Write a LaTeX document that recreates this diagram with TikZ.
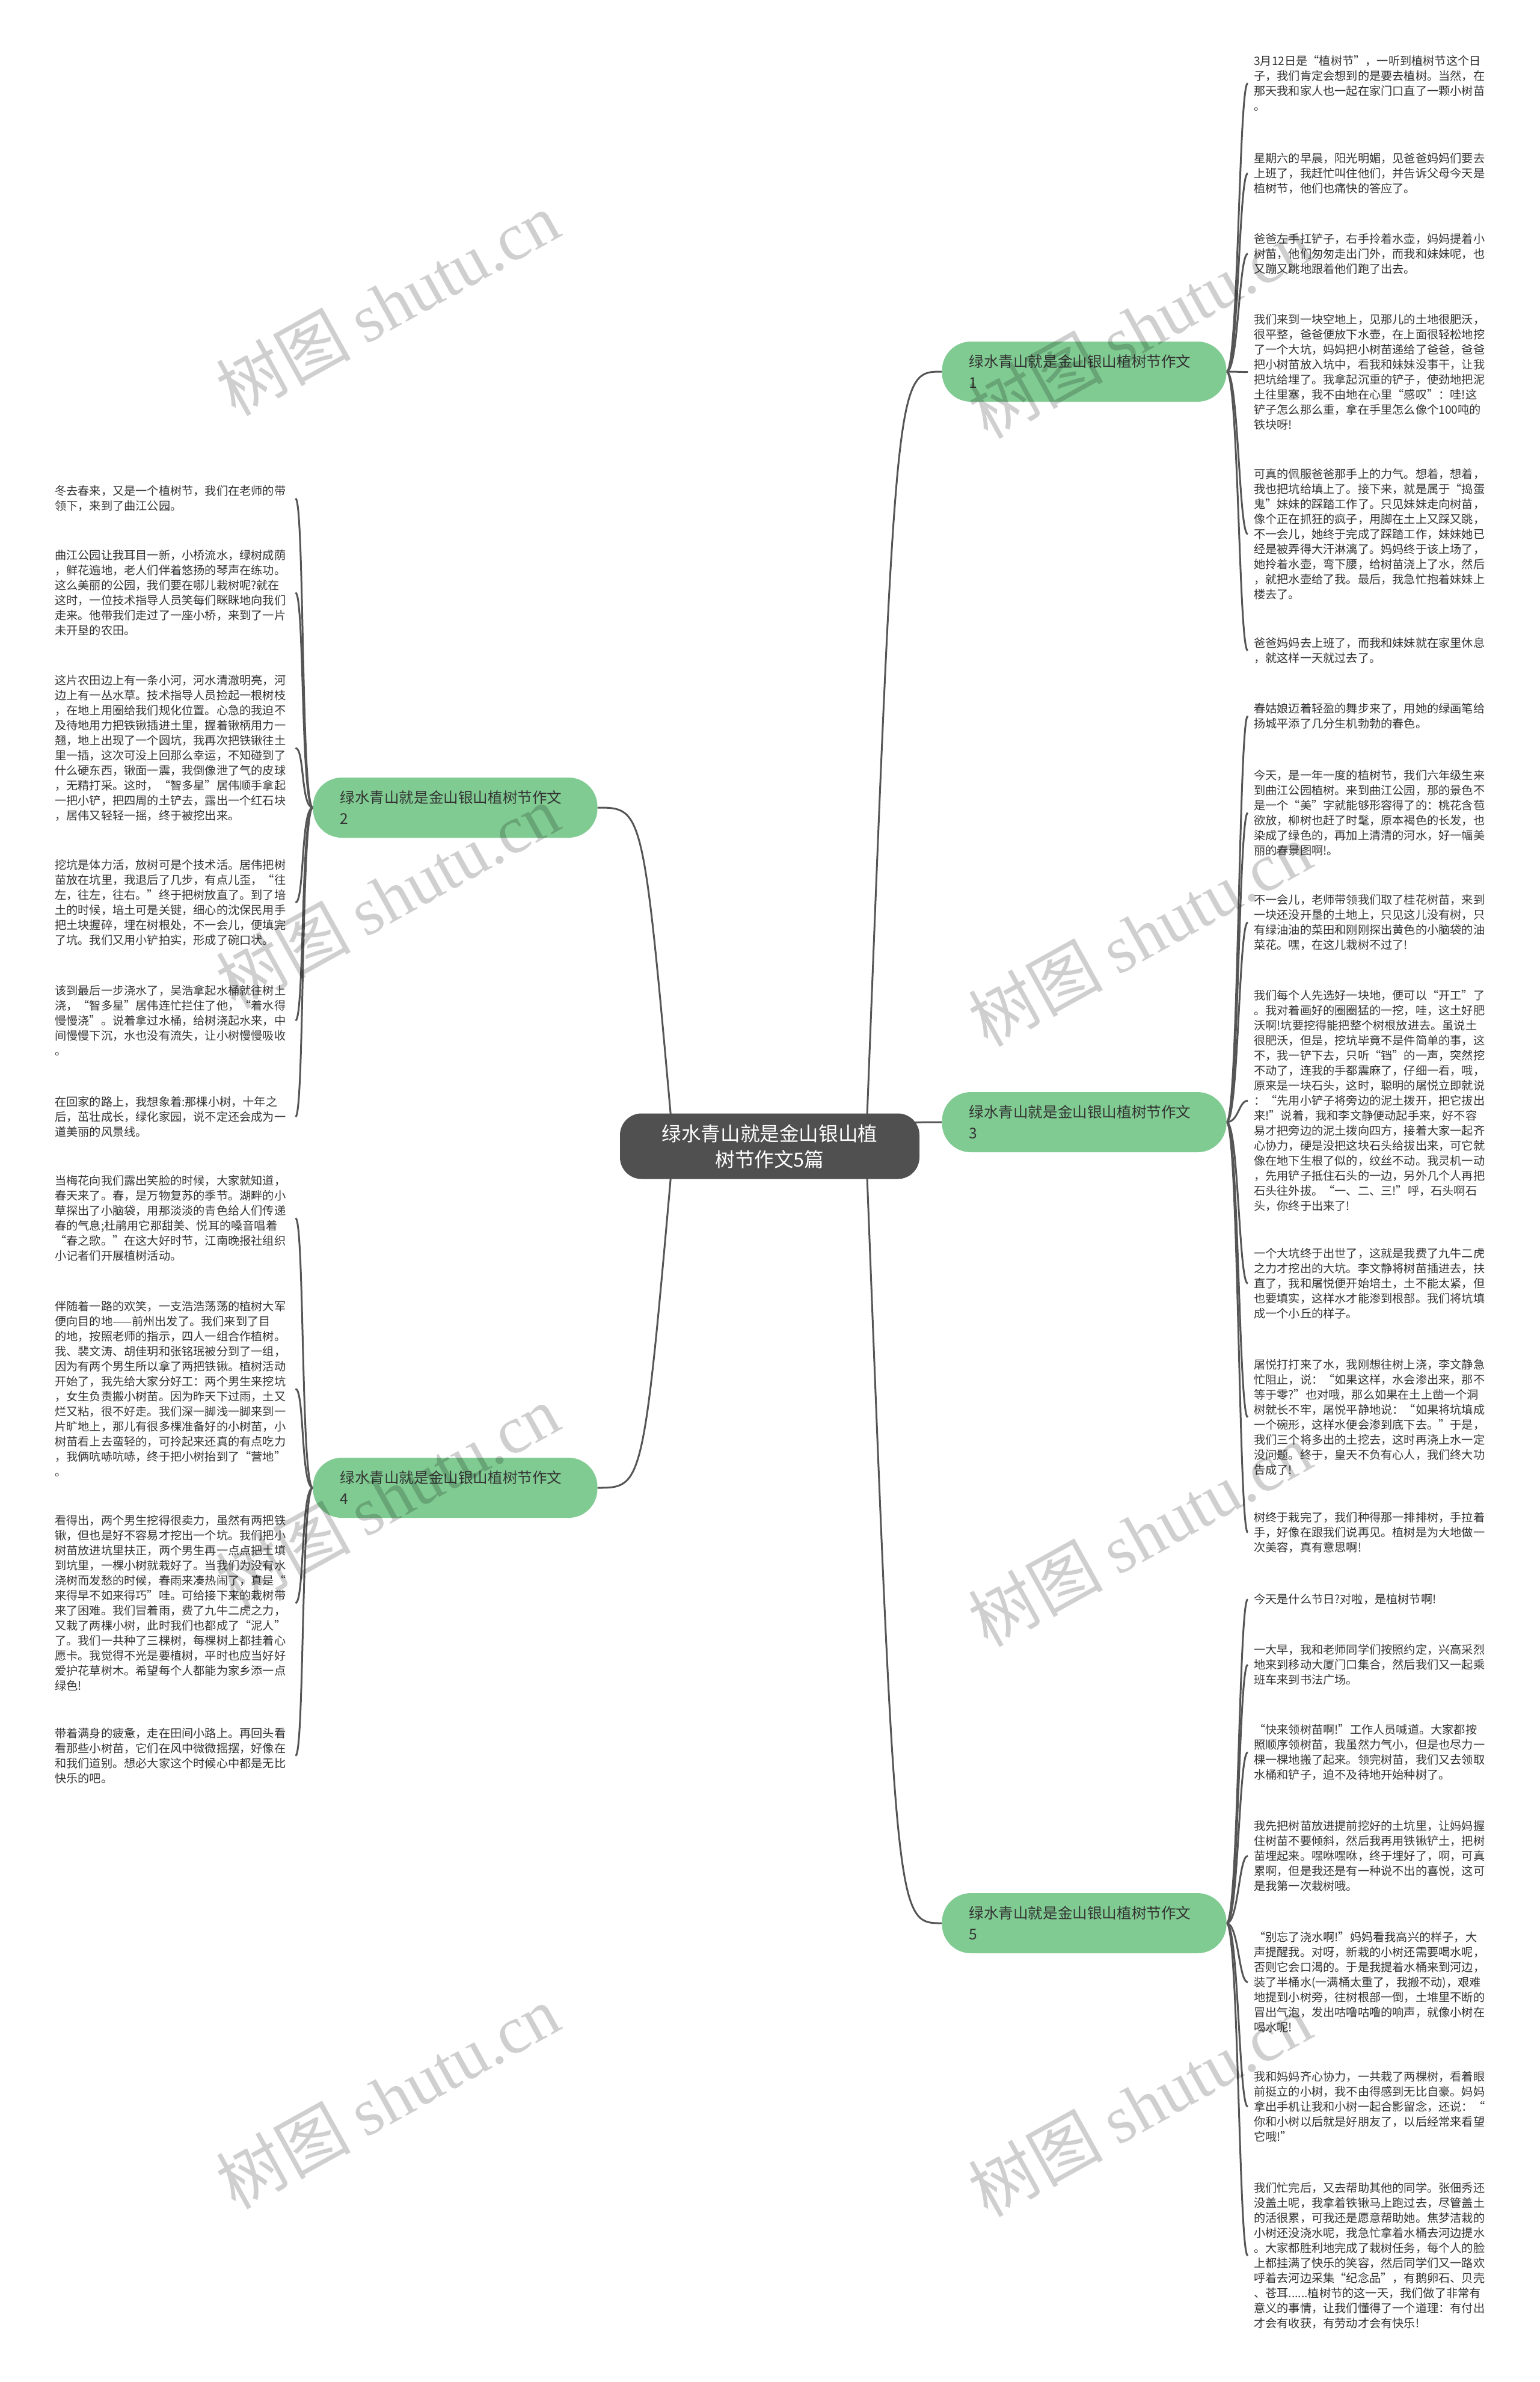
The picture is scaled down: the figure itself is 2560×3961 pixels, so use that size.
\documentclass[tikz,border=0pt]{standalone}
\usepackage{fontspec}
\setmainfont{Noto Sans CJK SC}
\newfontfamily\wmserif{Liberation Serif}
\pgfdeclarelayer{bg}
\pgfsetlayers{bg,main}
\definecolor{nodegreen}{RGB}{128,203,146}
\definecolor{centergray}{RGB}{80,80,80}
\definecolor{linegray}{RGB}{85,85,85}
\definecolor{txtgray}{RGB}{51,51,51}
\tikzset{
  leaf/.style={anchor=north west, inner sep=0pt, text width=390pt, align=left, text=txtgray, font=\fontsize{19.2}{25}\selectfont},
  branch/.style={fill=nodegreen, rounded corners=48pt, minimum height=100pt, inner xsep=45pt, inner ysep=0pt, text width=383pt, align=left, text=txtgray, font=\fontsize{24.6}{35}\selectfont},
  centernode/.style={fill=centergray, rounded corners=36pt, minimum width=498pt, minimum height=109pt, align=center, text=white, font=\fontsize{32.6}{43}\selectfont},
  link/.style={draw=linegray, line width=3pt},
  wm/.style={rotate=29, text=black, text opacity=0.19, font=\fontsize{112}{112}\selectfont}
}
\begin{document}
\begin{tikzpicture}[x=1pt,y=-1pt]
\useasboundingbox (0,0) rectangle (2560,3961);

% central and branch nodes
\node[centernode] (c) at (1280,1906) {绿水青山就是金山银山植\\树节作文5篇};
\node[branch] (b1) at (1803,618) {绿水青山就是金山银山植树节作文\\1};
\node[branch] (b2) at (757,1343) {绿水青山就是金山银山植树节作文\\2};
\node[branch] (b3) at (1803,1866) {绿水青山就是金山银山植树节作文\\3};
\node[branch] (b4) at (757,2474) {绿水青山就是金山银山植树节作文\\4};
\node[branch] (b5) at (1803,3198) {绿水青山就是金山银山植树节作文\\5};

% right leaves
\node[leaf] (r1) at (2085,92) {3月12日是“植树节”，一听到植树节这个日\\子，我们肯定会想到的是要去植树。当然，在\\那天我和家人也一起在家门口直了一颗小树苗\\。};
\node[leaf] (r2) at (2085,254) {星期六的早晨，阳光明媚，见爸爸妈妈们要去\\上班了，我赶忙叫住他们，并告诉父母今天是\\植树节，他们也痛快的答应了。};
\node[leaf] (r3) at (2085,388) {爸爸左手扛铲子，右手拎着水壶，妈妈提着小\\树苗，他们匆匆走出门外，而我和妹妹呢，也\\又蹦又跳地跟着他们跑了出去。};
\node[leaf] (r4) at (2085,522) {我们来到一块空地上，见那儿的土地很肥沃，\\很平整，爸爸便放下水壶，在上面很轻松地挖\\了一个大坑，妈妈把小树苗递给了爸爸，爸爸\\把小树苗放入坑中，看我和妹妹没事干，让我\\把坑给埋了。我拿起沉重的铲子，使劲地把泥\\土往里塞，我不由地在心里“感叹”：哇!这\\铲子怎么那么重，拿在手里怎么像个100吨的\\铁块呀!};
\node[leaf] (r5) at (2085,779) {可真的佩服爸爸那手上的力气。想着，想着，\\我也把坑给填上了。接下来，就是属于“捣蛋\\鬼”妹妹的踩踏工作了。只见妹妹走向树苗，\\像个正在抓狂的疯子，用脚在土上又踩又跳，\\不一会儿，她终于完成了踩踏工作，妹妹她已\\经是被弄得大汗淋漓了。妈妈终于该上场了，\\她拎着水壶，弯下腰，给树苗浇上了水，然后\\，就把水壶给了我。最后，我急忙抱着妹妹上\\楼去了。};
\node[leaf] (r6) at (2085,1060) {爸爸妈妈去上班了，而我和妹妹就在家里休息\\，就这样一天就过去了。};
\node[leaf] (r7) at (2085,1169) {春姑娘迈着轻盈的舞步来了，用她的绿画笔给\\扬城平添了几分生机勃勃的春色。};
\node[leaf] (r8) at (2085,1280) {今天，是一年一度的植树节，我们六年级生来\\到曲江公园植树。来到曲江公园，那的景色不\\是一个“美”字就能够形容得了的：桃花含苞\\欲放，柳树也赶了时髦，原本褐色的长发，也\\染成了绿色的，再加上清清的河水，好一幅美\\丽的春景图啊!。};
\node[leaf] (r9) at (2085,1487) {不一会儿，老师带领我们取了桂花树苗，来到\\一块还没开垦的土地上，只见这儿没有树，只\\有绿油油的菜田和刚刚探出黄色的小脑袋的油\\菜花。嘿，在这儿栽树不过了!};
\node[leaf] (r10) at (2085,1646) {我们每个人先选好一块地，便可以“开工”了\\。我对着画好的圈圈猛的一挖，哇，这土好肥\\沃啊!坑要挖得能把整个树根放进去。虽说土\\很肥沃，但是，挖坑毕竟不是件简单的事，这\\不，我一铲下去，只听“铛”的一声，突然挖\\不动了，连我的手都震麻了，仔细一看，哦，\\原来是一块石头，这时，聪明的屠悦立即就说\\：“先用小铲子将旁边的泥土拨开，把它拔出\\来!”说着，我和李文静便动起手来，好不容\\易才把旁边的泥土拨向四方，接着大家一起齐\\心协力，硬是没把这块石头给拔出来，可它就\\像在地下生根了似的，纹丝不动。我灵机一动\\，先用铲子抵住石头的一边，另外几个人再把\\石头往外拔。“一、二、三!”呼，石头啊石\\头，你终于出来了!};
\node[leaf] (r11) at (2085,2075) {一个大坑终于出世了，这就是我费了九牛二虎\\之力才挖出的大坑。李文静将树苗插进去，扶\\直了，我和屠悦便开始培土，土不能太紧，但\\也要填实，这样水才能渗到根部。我们将坑填\\成一个小丘的样子。};
\node[leaf] (r12) at (2085,2260) {屠悦打打来了水，我刚想往树上浇，李文静急\\忙阻止，说：“如果这样，水会渗出来，那不\\等于零?”也对哦，那么如果在土上凿一个洞\\树就长不牢，屠悦平静地说：“如果将坑填成\\一个碗形，这样水便会渗到底下去。”于是，\\我们三个将多出的土挖去，这时再浇上水一定\\没问题。终于，皇天不负有心人，我们终大功\\告成了!};
\node[leaf] (r13) at (2085,2514) {树终于栽完了，我们种得那一排排树，手拉着\\手，好像在跟我们说再见。植树是为大地做一\\次美容，真有意思啊!};
\node[leaf] (r14) at (2085,2650) {今天是什么节日?对啦，是植树节啊!};
\node[leaf] (r15) at (2085,2734) {一大早，我和老师同学们按照约定，兴高采烈\\地来到移动大厦门口集合，然后我们又一起乘\\班车来到书法广场。};
\node[leaf] (r16) at (2085,2867) {“快来领树苗啊!”工作人员喊道。大家都按\\照顺序领树苗，我虽然力气小，但是也尽力一\\棵一棵地搬了起来。领完树苗，我们又去领取\\水桶和铲子，迫不及待地开始种树了。};
\node[leaf] (r17) at (2085,3027) {我先把树苗放进提前挖好的土坑里，让妈妈握\\住树苗不要倾斜，然后我再用铁锹铲土，把树\\苗埋起来。嘿咻嘿咻，终于埋好了，啊，可真\\累啊，但是我还是有一种说不出的喜悦，这可\\是我第一次栽树哦。};
\node[leaf] (r18) at (2085,3212) {“别忘了浇水啊!”妈妈看我高兴的样子，大\\声提醒我。对呀，新栽的小树还需要喝水呢，\\否则它会口渴的。于是我提着水桶来到河边，\\装了半桶水(一满桶太重了，我搬不动)，艰难\\地提到小树旁，往树根部一倒，土堆里不断的\\冒出气泡，发出咕噜咕噜的响声，就像小树在\\喝水呢!};
\node[leaf] (r19) at (2085,3444) {我和妈妈齐心协力，一共栽了两棵树，看着眼\\前挺立的小树，我不由得感到无比自豪。妈妈\\拿出手机让我和小树一起合影留念，还说：“\\你和小树以后就是好朋友了，以后经常来看望\\它哦!”};
\node[leaf] (r20) at (2085,3629) {我们忙完后，又去帮助其他的同学。张佃秀还\\没盖土呢，我拿着铁锹马上跑过去，尽管盖土\\的活很累，可我还是愿意帮助她。焦梦洁栽的\\小树还没浇水呢，我急忙拿着水桶去河边提水\\。大家都胜利地完成了栽树任务，每个人的脸\\上都挂满了快乐的笑容，然后同学们又一路欢\\呼着去河边采集“纪念品”，有鹅卵石、贝壳\\、苍耳......植树节的这一天，我们做了非常有\\意义的事情，让我们懂得了一个道理：有付出\\才会有收获，有劳动才会有快乐!};

% left leaves
\node[leaf] (l1) at (91,807) {冬去春来，又是一个植树节，我们在老师的带\\领下，来到了曲江公园。};
\node[leaf] (l2) at (91,914) {曲江公园让我耳目一新，小桥流水，绿树成荫\\，鲜花遍地，老人们伴着悠扬的琴声在练功。\\这么美丽的公园，我们要在哪儿栽树呢?就在\\这时，一位技术指导人员笑每们眯眯地向我们\\走来。他带我们走过了一座小桥，来到了一片\\未开垦的农田。};
\node[leaf] (l3) at (91,1122) {这片农田边上有一条小河，河水清澈明亮，河\\边上有一丛水草。技术指导人员捡起一根树枝\\，在地上用圈给我们规化位置。心急的我迫不\\及待地用力把铁锹插进土里，握着锹柄用力一\\翘，地上出现了一个圆坑，我再次把铁锹往土\\里一插，这次可没上回那么幸运，不知碰到了\\什么硬东西，锹面一震，我倒像泄了气的皮球\\，无精打采。这时，“智多星”居伟顺手拿起\\一把小铲，把四周的土铲去，露出一个红石块\\，居伟又轻轻一摇，终于被挖出来。};
\node[leaf] (l4) at (91,1429) {挖坑是体力活，放树可是个技术活。居伟把树\\苗放在坑里，我退后了几步，有点儿歪，“往\\左，往左，往右。”终于把树放直了。到了培\\土的时候，培土可是关键，细心的沈保民用手\\把土块握碎，埋在树根处，不一会儿，便填完\\了坑。我们又用小铲拍实，形成了碗口状。};
\node[leaf] (l5) at (91,1638) {该到最后一步浇水了，吴浩拿起水桶就往树上\\浇，“智多星”居伟连忙拦住了他，“着水得\\慢慢浇”。说着拿过水桶，给树浇起水来，中\\间慢慢下沉，水也没有流失，让小树慢慢吸收\\。};
\node[leaf] (l6) at (91,1823) {在回家的路上，我想象着:那棵小树，十年之\\后，茁壮成长，绿化家园，说不定还会成为一\\道美丽的风景线。};
\node[leaf] (l7) at (91,1954) {当梅花向我们露出笑脸的时候，大家就知道，\\春天来了。春，是万物复苏的季节。湖畔的小\\草探出了小脑袋，用那淡淡的青色给人们传递\\春的气息;杜鹃用它那甜美、悦耳的嗓音唱着\\“春之歌。”在这大好时节，江南晚报社组织\\小记者们开展植树活动。};
\node[leaf] (l8) at (91,2163) {伴随着一路的欢笑，一支浩浩荡荡的植树大军\\便向目的地——前州出发了。我们来到了目\\的地，按照老师的指示，四人一组合作植树。\\我、裴文涛、胡佳玥和张铭珉被分到了一组，\\因为有两个男生所以拿了两把铁锹。植树活动\\开始了，我先给大家分好工：两个男生来挖坑\\，女生负责搬小树苗。因为昨天下过雨，土又\\烂又粘，很不好走。我们深一脚浅一脚来到一\\片旷地上，那儿有很多棵准备好的小树苗，小\\树苗看上去蛮轻的，可拎起来还真的有点吃力\\，我俩吭哧吭哧，终于把小树抬到了“营地”\\。};
\node[leaf] (l9) at (91,2519) {看得出，两个男生挖得很卖力，虽然有两把铁\\锹，但也是好不容易才挖出一个坑。我们把小\\树苗放进坑里扶正，两个男生再一点点把土填\\到坑里，一棵小树就栽好了。当我们为没有水\\浇树而发愁的时候，春雨来凑热闹了，真是“\\来得早不如来得巧”哇。可给接下来的栽树带\\来了困难。我们冒着雨，费了九牛二虎之力，\\又栽了两棵小树，此时我们也都成了“泥人”\\了。我们一共种了三棵树，每棵树上都挂着心\\愿卡。我觉得不光是要植树，平时也应当好好\\爱护花草树木。希望每个人都能为家乡添一点\\绿色!};
\node[leaf] (l10) at (91,2873) {带着满身的疲惫，走在田间小路上。再回头看\\看那些小树苗，它们在风中微微摇摆，好像在\\和我们道别。想必大家这个时候心中都是无比\\快乐的吧。};

\coordinate (sr) at (1440,1906);
\coordinate (sl) at (1120,1906);

\begin{pgfonlayer}{bg}
\fill[white] (0,0) rectangle (2560,3961);
% center to branches
\draw[link] (sr) .. controls (1490,618) .. (b1.west);
\draw[link] (sr) .. controls (1490,1866) .. (b3.west);
\draw[link] (sr) .. controls (1490,3198) .. (b5.west);
\draw[link] (sl) .. controls (1070,1343) .. (b2.east);
\draw[link] (sl) .. controls (1070,2474) .. (b4.east);
% branches to leaves
\foreach \r in {r1,r2,r3,r4,r5,r6}
  \draw[link] (b1.east) .. controls +(20pt,0pt) and +(-15pt,0pt) .. ([xshift=-10pt]\r.west);
\foreach \r in {r7,r8,r9,r10,r11,r12,r13}
  \draw[link] (b3.east) .. controls +(20pt,0pt) and +(-15pt,0pt) .. ([xshift=-10pt]\r.west);
\foreach \r in {r14,r15,r16,r17,r18,r19,r20}
  \draw[link] (b5.east) .. controls +(20pt,0pt) and +(-15pt,0pt) .. ([xshift=-10pt]\r.west);
\foreach \l in {l1,l2,l3,l4,l5,l6}
  \draw[link] (b2.west) .. controls +(-20pt,0pt) and +(15pt,0pt) .. ([xshift=10pt]\l.east);
\foreach \l in {l7,l8,l9,l10}
  \draw[link] (b4.west) .. controls +(-20pt,0pt) and +(15pt,0pt) .. ([xshift=10pt]\l.east);
\end{pgfonlayer}

% watermarks
\node[wm] (w1) at (644,505) {树图 {\wmserif shutu.cn}};
\node[wm] (w2) at (1895,543) {树图 {\wmserif shutu.cn}};
\node[wm] (w3) at (644,1491) {树图 {\wmserif shutu.cn}};
\node[wm] (w4) at (1895,1554) {树图 {\wmserif shutu.cn}};
\node[wm] (w5) at (644,2489) {树图 {\wmserif shutu.cn}};
\node[wm] (w6) at (1895,2552) {树图 {\wmserif shutu.cn}};
\node[wm] (w7) at (644,3487) {树图 {\wmserif shutu.cn}};
\node[wm] (w8) at (1895,3500) {树图 {\wmserif shutu.cn}};
\end{tikzpicture}
\end{document}
